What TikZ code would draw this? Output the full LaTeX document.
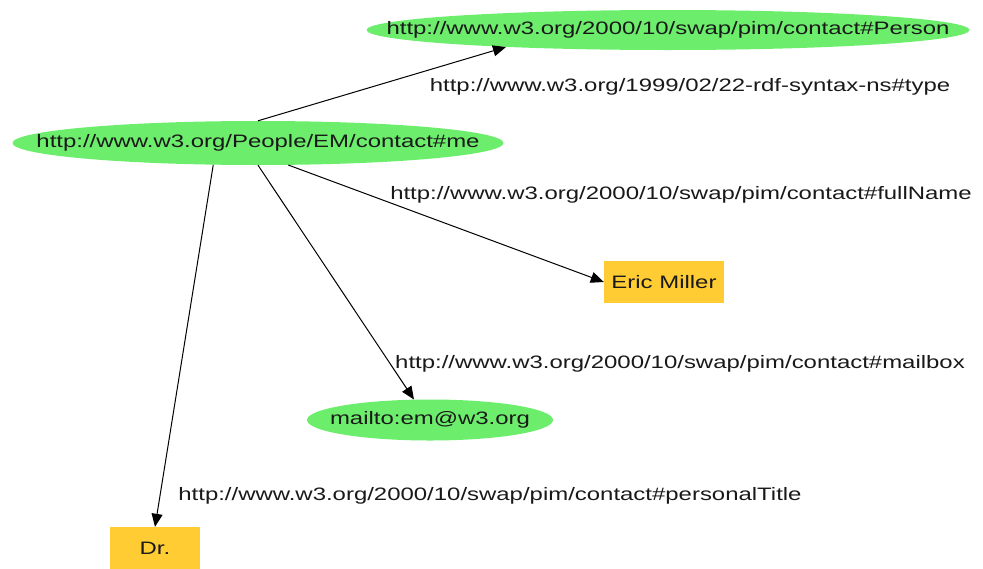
\documentclass[tikz,border=0pt]{standalone}
\usepackage{fontspec}
\setmainfont{Liberation Sans}
\usetikzlibrary{shapes.geometric,arrows.meta}
\definecolor{resgreen}{RGB}{108,238,108}
\definecolor{litorange}{RGB}{255,204,51}
\newcommand{\wtext}[1]{\makebox[0pt]{\scalebox{1.33}[1]{#1}}}

\begin{document}
\begin{tikzpicture}[x=1pt,y=-1pt]
      \tikzstyle{every node}=[font=\fontsize{18}{20}\selectfont,inner sep=0pt,text=black!90]
      \tikzstyle{res}=[ellipse,fill=resgreen]
      \tikzstyle{lit}=[rectangle,fill=litorange]
      \tikzstyle{arc}=[-{Triangle[length=13pt,width=11pt]},line width=1pt]
      \useasboundingbox (0,0) rectangle (983,568);
      % resources and literals
      \node[res,minimum width=603pt,minimum height=40pt] (person) at (668,30) {\wtext{http://www.w3.org/2000/10/swap/pim/contact\#Person}};
      \node[res,minimum width=491pt,minimum height=44pt] (me) at (258,143) {\wtext{http://www.w3.org/People/EM/contact\#me}};
      \node[lit,minimum width=120pt,minimum height=42pt] (eric) at (664,282) {\wtext{Eric Miller}};
      \node[res,minimum width=246pt,minimum height=41pt] (mbox) at (430,420) {\wtext{mailto:em@w3.org}};
      \node[lit,minimum width=90pt,minimum height=42pt] (dr) at (155,548) {\wtext{Dr.}};
      % property labels
      \node (ptype) at (690,87) {\wtext{http://www.w3.org/1999/02/22-rdf-syntax-ns\#type}};
      \node (pname) at (681,195) {\wtext{http://www.w3.org/2000/10/swap/pim/contact\#fullName}};
      \node (pmail) at (680,364) {\wtext{http://www.w3.org/2000/10/swap/pim/contact\#mailbox}};
      \node (ptitle) at (490,496) {\wtext{http://www.w3.org/2000/10/swap/pim/contact\#personalTitle}};
      % arcs
      \draw[arc] (me.north) -- (person.186);
      \draw[arc] (me.-36) -- (eric.west);
      \draw[arc] (me.south) -- (mbox.128);
      \draw[arc] (me.206) -- (dr.north);
\end{tikzpicture}
\end{document}
